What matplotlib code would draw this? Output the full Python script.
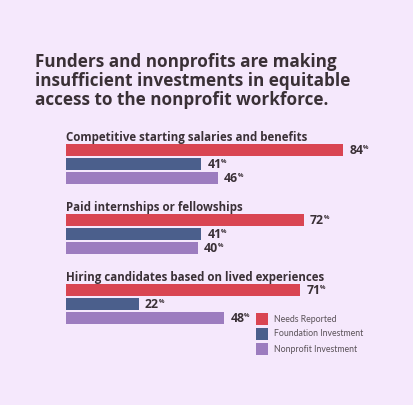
import matplotlib
matplotlib.use("Agg")
import matplotlib.pyplot as plt
from matplotlib.patches import Rectangle

# data
categories = ["Competitive starting salaries and benefits",
              "Paid internships or fellowships",
              "Hiring candidates based on lived experiences"]
series_names = ["Needs Reported", "Foundation Investment", "Nonprofit Investment"]
needs_reported = [84, 72, 71]
foundation_investment = [41, 41, 22]
nonprofit_investment = [46, 40, 48]
title = ("Funders and nonprofits are making\n"
         "insufficient investments in equitable\n"
         "access to the nonprofit workforce.")

colors = ["#d94552", "#4b5f8c", "#9c7cbf"]
bg = "#f5e8fc"
dark = "#3a3036"

W, H = 414, 405
fig = plt.figure(figsize=(W / 100, H / 100), dpi=100, facecolor=bg)

# axes: percent horizontally, pixel rows vertically
ax = fig.add_axes([66 / W, 0, 330 / W, 1])
ax.set_xlim(0, 100)
ax.set_ylim(H, 0)
ax.axis("off")

series = [needs_reported, foundation_investment, nonprofit_investment]
group_top = 150
group_step = 70
bar_step = 14

for g, cat in enumerate(categories):
    y0 = group_top + g * group_step
    ax.text(0, y0 - 13, cat, fontsize=8.3, fontweight="bold", family="Open Sans",
            color=dark, va="center", ha="left")
    for j, vals in enumerate(series):
        y = y0 + j * bar_step
        ax.barh(y, vals[g], height=11.5, color=colors[j], left=0)
        t = ax.annotate(str(vals[g]), xy=(vals[g], y), xytext=(4.5, 0),
                        textcoords="offset points", fontsize=8.8, fontweight="bold",
                        family="Open Sans", color=dark, va="center", ha="left")
        # small raised percent sign right after the number
        ax.annotate("%", xy=(1, 0.92), xycoords=t, xytext=(-0.3, 0),
                    textcoords="offset points", fontsize=4.3, fontweight="bold",
                    family="Open Sans", color=dark, va="top", ha="left")

fig.text(35 / W, 1 - 53 / H, title, fontsize=12.3, fontweight="bold", family="Open Sans",
         color=dark, va="top", ha="left", linespacing=1.08)

# legend
for j, name in enumerate(series_names):
    yc = 319 + j * 15
    fig.patches.append(Rectangle((256 / W, 1 - (yc + 6) / H), 12 / W, 12 / H,
                                 transform=fig.transFigure, facecolor=colors[j],
                                 edgecolor="none"))
    fig.text(274 / W, 1 - yc / H, name, fontsize=6.3, family="Lato",
             color="#5a5258", va="center", ha="left")

fig.savefig("out.png", dpi=100, facecolor=bg)
